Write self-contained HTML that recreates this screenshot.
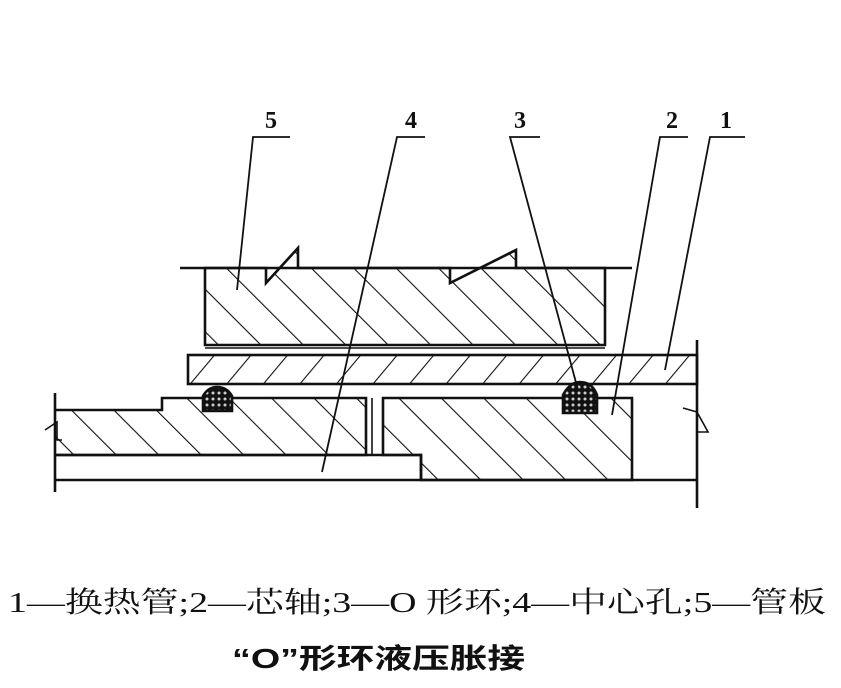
<!DOCTYPE html>
<html><head><meta charset="utf-8"><style>
html,body{margin:0;padding:0;background:#fff;}
svg{display:block;}
</style></head><body>
<svg width="841" height="688" viewBox="0 0 841 688" xmlns="http://www.w3.org/2000/svg">
<defs>
<pattern id="hb" patternUnits="userSpaceOnUse" width="30" height="30" patternTransform="rotate(-45)">
<line x1="0" y1="0" x2="0" y2="30" stroke="#111" stroke-width="2.2"/>
</pattern>
<pattern id="hf" patternUnits="userSpaceOnUse" width="28" height="28" patternTransform="rotate(40)">
<line x1="0" y1="0" x2="0" y2="28" stroke="#111" stroke-width="2.2"/>
</pattern>
<pattern id="dots" patternUnits="userSpaceOnUse" width="6" height="6">
<rect width="6" height="6" fill="#111"/><circle cx="3" cy="3" r="1.5" fill="#ccc"/>
</pattern>
</defs>
<g stroke="#111" stroke-width="2.6" fill="none" stroke-linejoin="miter">
<path d="M205,268 L266,268 L266,283 L298,248 L298,268 L450,268 L450,283 L516,250 L516,268 L605,268 L605,345 L205,345 Z" fill="url(#hb)"/>
<line x1="180" y1="268" x2="632" y2="268"/>
<line x1="205" y1="348" x2="605" y2="348" stroke-width="1.6"/>
<rect x="188" y="355" width="509" height="29" fill="url(#hf)"/>
<line x1="697" y1="340" x2="697" y2="508"/>
<path d="M55,410 L162,410 L162,398 L366,398 L366,455 L55,455" fill="url(#hb)"/>
<line x1="55" y1="393" x2="55" y2="492"/>
<line x1="372" y1="398" x2="372" y2="455" stroke-width="1.6"/>
<path d="M383,398 L632,398 L632,480 L421,480 L421,455 L383,455 Z" fill="url(#hb)"/>
<path d="M55,455 L421,455 L421,480"/>
<line x1="55" y1="480" x2="697" y2="480"/>
<path d="M203,411 L203,396 Q208,387 217,387 Q227,387 232,396 L232,411 Z" fill="url(#dots)"/>
<path d="M563,413 L563,395 Q570,382 580,382 Q592,382 597,395 L597,413 Z" fill="url(#dots)"/>
<path d="M45,430 L57,422 L57,440 L62,440" stroke-width="1.6"/>
<path d="M683,408 L697,412 L708,432 L697,432" stroke-width="1.6"/>
<path d="M290,137 L253,137 L237,290" stroke-width="1.8"/>
<path d="M425,137 L397,137 L322,472" stroke-width="1.8"/>
<path d="M540,137 L510,137 L578,390" stroke-width="1.8"/>
<path d="M688,137 L660,137 L612,415" stroke-width="1.8"/>
<path d="M745,137 L710,137 L665,370" stroke-width="1.8"/>
</g>
<g font-family="Liberation Serif, serif" font-size="24" font-weight="bold" fill="#111">
<text x="265" y="128">5</text>
<text x="405" y="128">4</text>
<text x="514" y="128">3</text>
<text x="666" y="128">2</text>
<text x="720" y="128">1</text>
</g>
<text x="8" y="612" font-family="Liberation Serif, 'Noto Serif CJK SC', serif" font-size="29" fill="#111" textLength="818" lengthAdjust="spacingAndGlyphs">1—换热管;2—芯轴;3—O 形环;4—中心孔;5—管板</text>
<text x="232" y="668" font-family="Liberation Sans, 'Noto Sans CJK SC', sans-serif" font-size="28" font-weight="bold" fill="#111" textLength="293" lengthAdjust="spacingAndGlyphs">“O”形环液压胀接</text>
</svg>
</body></html>
